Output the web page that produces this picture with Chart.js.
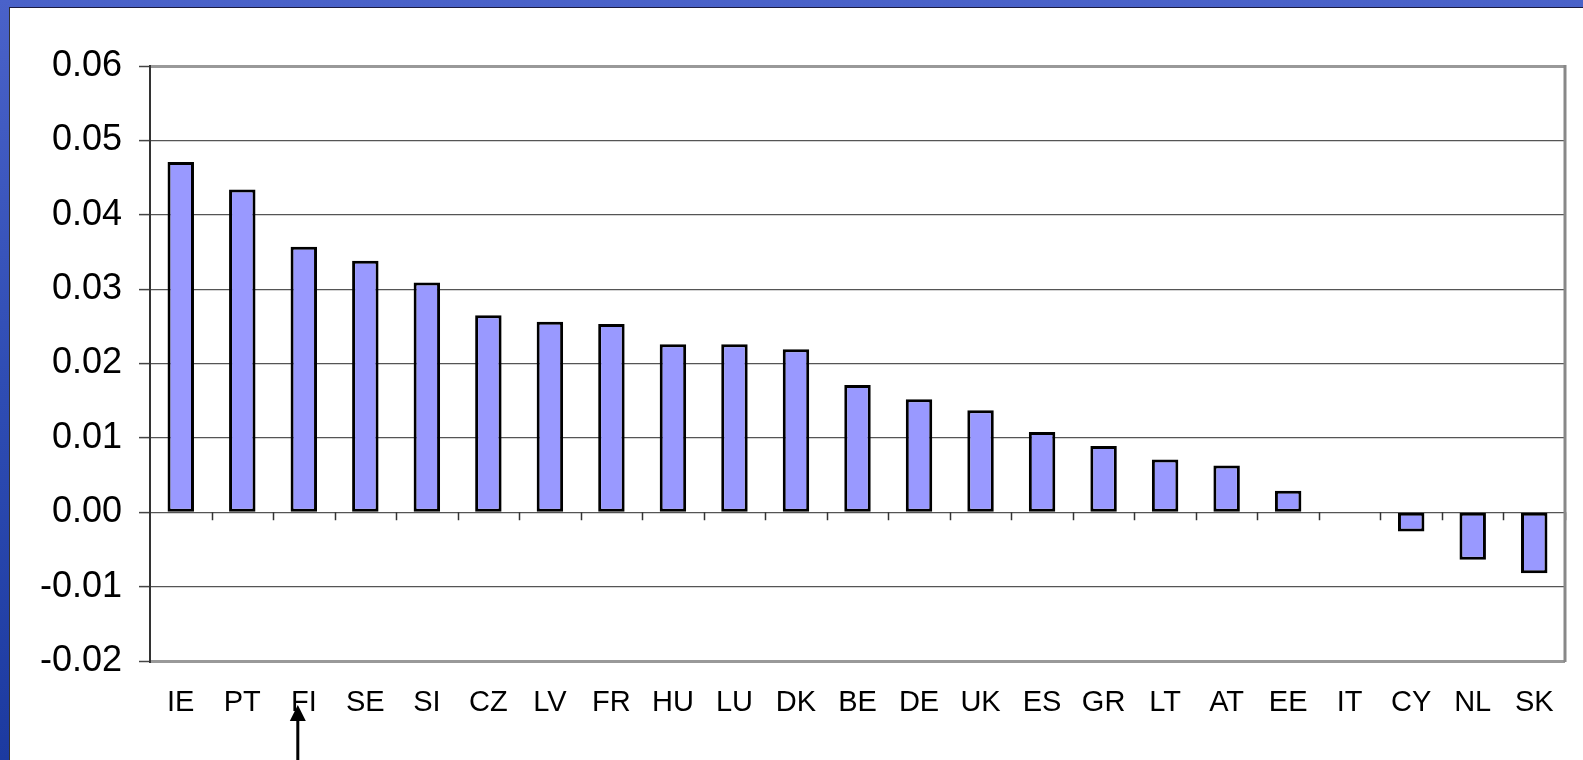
<!DOCTYPE html>
<html>
<head>
<meta charset="utf-8">
<script src="https://cdn.jsdelivr.net/npm/chart.js@4/dist/chart.umd.min.js"></script>
<style>
  html, body { margin: 0; padding: 0; }
  body {
    width: 1583px; height: 760px; overflow: hidden;
    background: linear-gradient(to bottom, #4a62c9 0%, #2f4db4 50%, #1c3aa0 100%);
    position: relative;
  }
  #panel {
    position: absolute; left: 9px; top: 7px; width: 1574px; height: 753px;
    background: #fff; border-top: 1px solid #1a1a40; border-left: 1px solid #333;
    box-sizing: border-box;
  }
  #wrap { position: absolute; left: 0; top: 0; width: 1573px; height: 752px; }
</style>
</head>
<body>
<div id="panel"><div id="wrap"><canvas id="grafico"></canvas></div></div>
<script>
// categorie e valori
const paesi = ['IE', 'PT', 'FI', 'SE', 'SI', 'CZ', 'LV', 'FR', 'HU', 'LU', 'DK', 'BE',
               'DE', 'UK', 'ES', 'GR', 'LT', 'AT', 'EE', 'IT', 'CY', 'NL', 'SK'];
const valori = [0.0471, 0.0434, 0.0357, 0.0338, 0.0309, 0.0265, 0.0256, 0.0253, 0.0226, 0.0226,
                0.0219, 0.0171, 0.0152, 0.0137, 0.0108, 0.0089, 0.0071, 0.0063, 0.0029, 0.0,
                -0.0026, -0.0064, -0.0082];
const tickY = [-0.02, -0.01, 0.00, 0.01, 0.02, 0.03, 0.04, 0.05, 0.06];

Chart.defaults.font.family = "'Liberation Sans', Arial, sans-serif";
Chart.defaults.color = '#000';

// tacche sull'asse zero, bordo destro e freccia sotto FI
const extra = {
  id: 'extra',
  afterDraw(chart) {
    const c = chart.ctx, a = chart.chartArea;
    const x = chart.scales.x, y = chart.scales.y;
    const y0 = y.getPixelForValue(0);
    const step = x.getPixelForValue(1) - x.getPixelForValue(0);
    c.save();
    c.strokeStyle = '#333';
    c.lineWidth = 1.5;
    for (let i = 1; i <= paesi.length; i++) {
      const px = Math.round(x.getPixelForValue(i) - step / 2) + 0.5;
      c.beginPath(); c.moveTo(px, y0); c.lineTo(px, y0 + 8); c.stroke();
    }
    c.strokeStyle = '#888';
    c.lineWidth = 3;
    c.beginPath(); c.moveTo(a.right, a.top - 1); c.lineTo(a.right, a.bottom + 1); c.stroke();
    // freccia
    const fx = x.getPixelForValue(paesi.indexOf('FI')) - 6;
    c.fillStyle = '#000';
    c.beginPath();
    c.moveTo(fx, 697); c.lineTo(fx - 8, 713); c.lineTo(fx + 8, 713); c.closePath(); c.fill();
    c.fillRect(fx - 1.5, 712, 3, 45);
    c.restore();
  }
};

new Chart(document.getElementById('grafico'), {
  type: 'bar',
  data: {
    labels: paesi,
    datasets: [{
      data: valori,
      backgroundColor: '#9999ff',
      borderColor: '#000',
      borderWidth: 3,
      borderSkipped: false,
      categoryPercentage: 1,
      barPercentage: 0.43
    }]
  },
  options: {
    responsive: true,
    maintainAspectRatio: false,
    animation: false,
    layout: { padding: { top: 58, right: 18, left: 0, bottom: 0 } },
    plugins: { legend: { display: false }, tooltip: { enabled: false } },
    scales: {
      x: {
        grid: { display: false },
        border: { display: false },
        ticks: { font: { size: 29 }, padding: 17, maxRotation: 0, autoSkip: false },
        afterFit(s) { s.height = 99; }
      },
      y: {
        min: -0.02,
        max: 0.06,
        afterBuildTicks(s) { s.ticks = tickY.map(v => ({ value: v })); },
        afterFit(s) { s.width = 140; },
        ticks: {
          font: { size: 36 },
          padding: 17,
          callback: v => v.toFixed(2)
        },
        grid: {
          color: ctx => (ctx.tick && (ctx.tick.value === 0.06 || ctx.tick.value === -0.02)) ? '#999' : '#555',
          lineWidth: ctx => (ctx.tick && (ctx.tick.value === 0.06 || ctx.tick.value === -0.02)) ? 3 : 1.2,
          tickColor: '#444',
          tickLength: 11,
          tickWidth: 1.5
        },
        border: { color: '#333', width: 2 }
      }
    }
  },
  plugins: [extra]
});
</script>
</body>
</html>
